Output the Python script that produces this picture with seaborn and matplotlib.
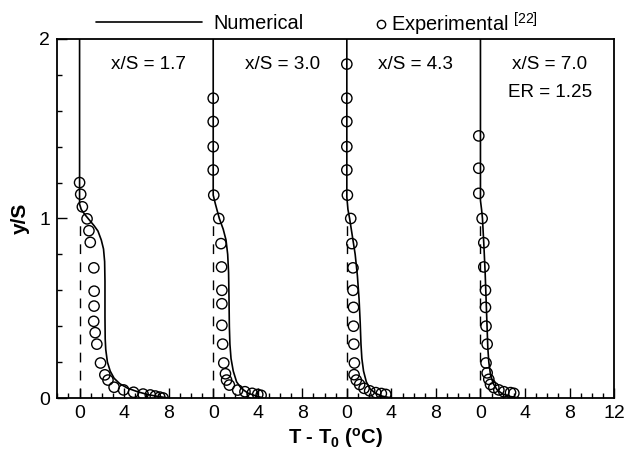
import numpy as np
import pandas as pd
import seaborn as sns
import matplotlib.pyplot as plt
from matplotlib.lines import Line2D
from matplotlib.ticker import MultipleLocator

# Station labels
stations = ["x/S = 1.7", "x/S = 3.0", "x/S = 4.3", "x/S = 7.0"]
panel_shift = [0, 12, 24, 36]  # each profile is drawn 12 degrees further right

# Numerical profiles (T - T0, y/S)
num_T1 = [0, 0, 0.15, 0.5, 0.9, 1.3, 1.65, 1.95, 2.15, 2.25, 2.28, 2.28, 2.3, 2.35, 2.5, 2.75, 3.1, 3.6, 4.3, 5.2, 6.2, 7.2, 8.0]
num_y1 = [2.0, 1.08, 1.05, 1.02, 0.99, 0.96, 0.93, 0.88, 0.83, 0.76, 0.65, 0.45, 0.33, 0.27, 0.2, 0.15, 0.11, 0.08, 0.055, 0.035, 0.018, 0.007, 0.0]
num_T2 = [0, 0, 0.2, 0.55, 0.9, 1.15, 1.3, 1.38, 1.42, 1.45, 1.5, 1.6, 1.8, 2.1, 2.5, 3.1, 3.8, 4.5]
num_y2 = [2.0, 1.13, 1.08, 1.0, 0.94, 0.88, 0.8, 0.7, 0.55, 0.4, 0.3, 0.22, 0.15, 0.09, 0.055, 0.028, 0.012, 0.0]
num_T3 = [0, 0, 0.1, 0.25, 0.5, 0.75, 0.95, 1.1, 1.2, 1.27, 1.35, 1.5, 1.75, 2.1, 2.6, 3.2, 4.0]
num_y3 = [2.0, 1.12, 1.05, 1.0, 0.9, 0.8, 0.68, 0.55, 0.42, 0.3, 0.22, 0.15, 0.09, 0.05, 0.025, 0.01, 0.0]
num_T4 = [0, 0, 0.1, 0.18, 0.3, 0.42, 0.5, 0.58, 0.66, 0.75, 0.9, 1.15, 1.5, 2.0, 2.7, 3.5]
num_y4 = [2.0, 1.1, 1.05, 1.0, 0.86, 0.7, 0.56, 0.42, 0.28, 0.2, 0.13, 0.08, 0.045, 0.022, 0.008, 0.0]

# Experimental data [22]
exp_T1 = [0.0, 0.1, 0.25, 0.67, 0.84, 0.96, 1.28, 1.31, 1.3, 1.27, 1.4, 1.55, 1.88, 2.27, 2.55, 3.1, 3.95, 4.85, 5.7, 6.35, 6.8, 7.2, 7.5]
exp_y1 = [1.2, 1.135, 1.065, 0.998, 0.932, 0.867, 0.725, 0.595, 0.512, 0.427, 0.364, 0.3, 0.195, 0.129, 0.1, 0.06, 0.045, 0.032, 0.022, 0.017, 0.011, 0.005, 0.0]
exp_T2 = [0, 0, 0, 0, 0.05, 0.5, 0.7, 0.75, 0.78, 0.78, 0.78, 0.85, 0.95, 1.1, 1.2, 1.45, 2.2, 2.85, 3.5, 4.0, 4.3]
exp_y2 = [1.67, 1.54, 1.4, 1.27, 1.13, 1.0, 0.86, 0.73, 0.6, 0.525, 0.405, 0.3, 0.195, 0.135, 0.1, 0.072, 0.044, 0.035, 0.026, 0.02, 0.015]
exp_T3 = [0, 0, 0, 0, 0, 0.05, 0.35, 0.45, 0.55, 0.55, 0.6, 0.6, 0.63, 0.68, 0.65, 0.85, 1.15, 1.55, 2.05, 2.6, 3.1, 3.5]
exp_y3 = [1.86, 1.67, 1.54, 1.4, 1.27, 1.13, 1.0, 0.86, 0.725, 0.6, 0.505, 0.4, 0.3, 0.195, 0.13, 0.1, 0.075, 0.054, 0.04, 0.03, 0.025, 0.02]
exp_T4 = [-0.15, -0.15, -0.15, 0.15, 0.3, 0.3, 0.45, 0.45, 0.5, 0.6, 0.5, 0.6, 0.75, 0.9, 1.2, 1.65, 2.1, 2.7, 3.0]
exp_y4 = [1.46, 1.28, 1.14, 1.0, 0.865, 0.73, 0.6, 0.505, 0.4, 0.3, 0.195, 0.14, 0.104, 0.076, 0.058, 0.045, 0.035, 0.03, 0.026]

# Dashed reference line T - T0 = 0, from wall up to slot height
ref_y = [0.0, 1.0]

# Axis ticks
xtick_values = list(range(0, 49, 4))
xtick_labels = ["0", "4", "8", "0", "4", "8", "0", "4", "8", "0", "4", "8", "12"]
ytick_values = [0, 1, 2]

num_T = [num_T1, num_T2, num_T3, num_T4]
num_y = [num_y1, num_y2, num_y3, num_y4]
exp_T = [exp_T1, exp_T2, exp_T3, exp_T4]
exp_y = [exp_y1, exp_y2, exp_y3, exp_y4]

num_df = pd.concat([pd.DataFrame({"panel": i, "x": np.array(num_T[i]) + panel_shift[i], "y": num_y[i]})
                    for i in range(4)], ignore_index=True)
exp_df = pd.concat([pd.DataFrame({"panel": i, "x": np.array(exp_T[i]) + panel_shift[i], "y": exp_y[i]})
                    for i in range(4)], ignore_index=True)
ref_df = pd.concat([pd.DataFrame({"panel": i, "x": [panel_shift[i]] * 2, "y": ref_y})
                    for i in range(4)], ignore_index=True)

sns.set_theme(style="ticks", rc={"text.color": "black", "axes.labelcolor": "black",
                                 "xtick.color": "black", "ytick.color": "black",
                                 "axes.edgecolor": "black"})
plt.rcParams["font.family"] = ["Liberation Sans", "DejaVu Sans"]
plt.rcParams["mathtext.fontset"] = "custom"
plt.rcParams["mathtext.rm"] = "Liberation Sans"
plt.rcParams["mathtext.it"] = "Liberation Sans:italic"
plt.rcParams["mathtext.bf"] = "Liberation Sans:bold"

fig = plt.figure(figsize=(6.27, 4.57), dpi=100)
ax = fig.add_axes([0.0914, 0.1291, 0.888, 0.7856])

sns.lineplot(data=ref_df, x="x", y="y", units="panel", estimator=None, sort=False,
             color="black", linewidth=1.0, linestyle=(0, (7, 6)), ax=ax)
sns.lineplot(data=num_df, x="x", y="y", units="panel", estimator=None, sort=False,
             color="black", linewidth=1.2, ax=ax)
sns.scatterplot(data=exp_df, x="x", y="y", marker="o", s=55, facecolor="none",
                edgecolor="black", linewidth=1.0, ax=ax, zorder=3)

ax.set_xlim(-2, 48)
ax.set_ylim(0, 2)
ax.set_xticks(xtick_values)
ax.set_xticklabels(xtick_labels)
ax.set_yticks(ytick_values)
ax.xaxis.set_minor_locator(MultipleLocator(1))
ax.yaxis.set_minor_locator(MultipleLocator(0.2))
ax.tick_params(which="both", direction="in", top=False, right=False, width=1.0,
               color="black", labelsize=14, labelcolor="black", pad=5)
ax.tick_params(which="major", length=7)
ax.tick_params(which="minor", length=3.5)
for s in ax.spines.values():
    s.set_linewidth(1.3)
    s.set_color("black")

ax.set_xlabel(r"T - T$_\mathbf{0}$ ($^\mathbf{o}$C)", fontsize=14.5, fontweight="bold", labelpad=3)
ax.set_ylabel("y/S", fontsize=15, fontweight="bold", labelpad=7)

# station annotations
for i, lab in enumerate(stations):
    ax.text(panel_shift[i] + 6.2, 1.86, lab, ha="center", va="center", fontsize=13.6)
ax.text(panel_shift[3] + 2.5, 1.70, "ER = 1.25", ha="left", va="center", fontsize=13.6)

# legend above the frame
h_num = Line2D([], [], color="black", linewidth=1.2)
h_exp = Line2D([], [], marker="o", linestyle="none", markerfacecolor="none",
               markeredgecolor="black", markersize=6, markeredgewidth=1.0)
leg1 = ax.legend([h_num], ["Numerical"], loc="center left", bbox_to_anchor=(0.153, 0.9475),
                 bbox_transform=fig.transFigure, frameon=False, handlelength=5.3,
                 handletextpad=0.55, borderpad=0, borderaxespad=0, fontsize=14.4)
ax.add_artist(leg1)
ax.legend([h_exp], [r"Experimental $^{\mathregular{[22]}}$"], loc="center left",
          bbox_to_anchor=(0.595, 0.9475), bbox_transform=fig.transFigure, frameon=False,
          handlelength=0.8, handletextpad=0.12, borderpad=0, borderaxespad=0, fontsize=14.4)

fig.savefig("out.png", dpi=100)
